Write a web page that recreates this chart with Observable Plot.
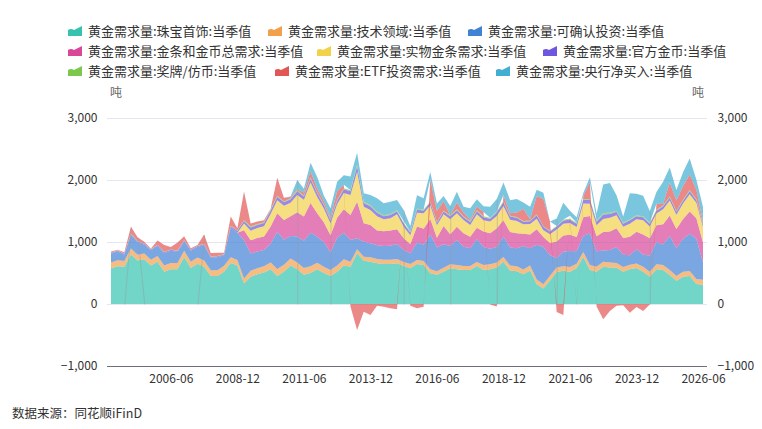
<!DOCTYPE html>
<html><head><meta charset="utf-8">
<script src="https://cdn.jsdelivr.net/npm/d3@7"></script>
<script src="https://cdn.jsdelivr.net/npm/@observablehq/plot@0.6"></script>
<style>
body{margin:0;background:#fff;font-family:"Noto Sans CJK SC","Noto Sans",sans-serif;}
#wrap{position:relative;width:762px;height:429px;overflow:hidden;background:#fff;}
.lg{position:absolute;font-size:13px;color:#333;line-height:16px;white-space:nowrap;}
.lg svg{position:absolute;left:-20px;top:3px;}
.unit{position:absolute;font-size:12px;color:#666;line-height:14px;}
#chart{position:absolute;left:0;top:80px;}
#src{position:absolute;left:12px;top:403px;font-size:12.5px;color:#333;}
</style></head>
<body><div id="wrap">
<div id="legend"></div>
<div class="unit" style="left:110px;top:85px;">吨</div>
<div class="unit" style="left:692px;top:85px;">吨</div>
<div id="chart"></div>
<div id="src">数据来源：同花顺iFinD</div>
</div>
<script>
// categories: quarters 2004-03 .. 2026-06
const quarters = [];
for (let y = 2004; y <= 2026; y++) for (const m of ["03","06","09","12"]) quarters.push(y + "-" + m);
quarters.length = 90;

const names = [
  "黄金需求量:珠宝首饰:当季值",
  "黄金需求量:技术领域:当季值",
  "黄金需求量:可确认投资:当季值",
  "黄金需求量:金条和金币总需求:当季值",
  "黄金需求量:实物金条需求:当季值",
  "黄金需求量:官方金币:当季值",
  "黄金需求量:奖牌/仿币:当季值",
  "黄金需求量:ETF投资需求:当季值",
  "黄金需求量:央行净买入:当季值"
];
const colors = ["#35c3b0","#f3a04c","#4282d4","#d9479a","#f2d24a","#6f55e0","#7cc84c","#e35656","#41aed2"];

const jewelry = [575,610,600,800,700,720,620,680,520,560,560,760,580,650,600,450,450,520,660,620,
  330,440,480,510,560,450,520,620,560,470, 500,560,500,450,520,620,602,817,699,683,
  656,645,645,656,613,575,645,630,495,470, 521,575,559,548,548,613,550,560,590,680,
  540,530,480,540,320,250,380,515,538,520, 575,760,548,521,602,590,586,520,560,580,
  520,440,560,548,468,376,441,452,323,310];
const tech = [95,95,95,95,95,95,95,95,100,100,100,100,100,100,100,95,95,95,95,90,
  80,95,95,100,110,115,115,115,110,110, 110,105,100,100,100,100,80,65,64,70,
  70,70,70,70,65,70,65,65,64,60, 65,65,70,65,65,65,80,80,80,80,
  80,80,75,80,75,70,75,75,70,75, 75,80,80,80,80,80,75,75,75,75,
  80,80,80,80,80,75,80,80,80,80];
const invest = [140,140,100,220,200,140,150,160,200,200,180,150,180,170,250,200,210,170,480,440,
  620,280,270,260,300,600,400,360,420,440, 540,420,400,280,450,430,350,177,242,225,
  220,220,225,240,193,172,280,260,560,380, 377,296,403,312,285,365,290,250,250,330,
  290,290,380,280,560,600,330,150,237,260, 200,260,510,250,180,200,260,200,150,230,
  200,260,360,330,550,450,530,600,650,280];
const barCoin = [null,null,null,null,null,null,null,null,null,null,null,null,null,null,null,null,null,null,null,null,
  160,215,220,220,280,300,320,320,390,390, 480,380,320,280,320,380,403,591,296,296,
  240,240,245,240,188,150,260,260,250,160, 295,188,215,215,188,188,250,250,300,260,
  250,240,200,220,250,160,200,270,258,260, 230,300,280,240,300,300,300,270,300,280,
  320,280,270,330,330,310,320,360,330,320];
const bar = [null,null,null,null,null,null,null,null,null,null,null,null,null,null,null,null,null,null,null,null,
  110,150,160,165,200,210,230,220,280,270, 330,260,220,190,220,260,323,484,269,242,
  230,190,200,240,188,140,220,250,220,200, 188,242,215,215,188,215,180,190,200,230,
  200,200,150,170,170,110,140,190,190,190, 160,220,200,180,210,220,210,180,210,200,
  230,190,190,240,240,230,250,280,250,250];
const coin = [15,15,15,15,15,15,15,15,15,15,15,15,15,15,15,15,15,15,20,30,
  40,55,50,50,60,55,55,55,60,55, 60,60,55,50,55,60,60,90,60,60,
  55,50,50,50,50,45,50,45,50,40, 45,50,50,45,50,50,50,45,60,60,
  50,50,40,45,55,55,45,50,55,55, 55,60,60,55,70,60,55,50,55,50,
  50,45,45,50,50,45,45,50,45,40];
const medal = [6,6,6,6,6,6,6,6,6,6,6,6,6,6,6,6,6,6,8,10,
  10,20,15,15,20,15,15,15,20,15, 20,15,15,15,15,15,20,27,20,20,
  18,15,15,15,15,15,15,15,15,12, 15,15,15,15,15,15,15,15,15,20,
  15,15,12,12,12,10,10,10,15,15, 15,15,15,15,25,20,18,15,15,15,
  15,15,15,15,15,15,15,15,15,15];
const etf = [15,10,20,110,60,30,10,70,110,40,130,60,20,10,150,55,50,20,150,30,
  465,45,40,30,5,290,60,20,10,50, 100,60,50,30,140,60,-40,-420,-124,-177,
  -27,-43,-70,-86,25,-30,-70,-43,364,180, 150,0,110,60,20,60,70,-10,-40,100,
  40,70,200,20,300,440,150,-130,-177,50, -27,50,270,-40,-244,-111,-30,-21,-140,-50,
  -113,-7,95,20,226,170,222,250,150,30];
const cb = [null,null,null,null,null,null,null,null,null,null,null,null,null,null,null,null,null,null,null,null,
  null,null,null,null,null,null,null,10,150,60,
  140,190,90,150,150,150,220,190,135,162, 215,195,200,165,180,91,220,180,110,120,
  86,150,175,95,185,117,90,180,200,200, 210,220,100,200,100,100,0,120,270,80,
  90,45,80,120,460,480,250,100,420,350, 330,190,190,360,244,166,220,260,160,240];

// quarters where the reference shows thin grey drop lines
const glitchTop = [3,4,14,28,33,44,51,58,67,81];
const glitchBottom = [2,5,13,28,33,44,51,58,67,81];

const yTicks = [-1000,0,1000,2000,3000];
const xTicks = [9,19,29,39,49,59,69,79,89];

const seriesValues = [jewelry, tech, invest, barCoin, bar, coin, medal, etf, cb];
const rows = [];
seriesValues.forEach((vals, k) => vals.forEach((v, i) => rows.push({i, s: names[k], v})));
const totals = quarters.map((q, i) => seriesValues.reduce((a, arr) => a + (arr[i] > 0 ? arr[i] : 0), 0));
const glitches = glitchTop.map((t, k) => ({t, b: glitchBottom[k], top: totals[t]}));

// legend
const legendPos = [[68,23],[268,23],[468,23],[68,43],[317,43],[543,43],[68,63],[275,63],[496,63]];
const lg = document.getElementById("legend");
names.forEach((n, k) => {
  const d = document.createElement("div");
  d.className = "lg";
  d.style.left = (legendPos[k][0] + 20) + "px";
  d.style.top = legendPos[k][1] + "px";
  d.innerHTML = `<svg width="14" height="10" viewBox="0 0 14 10"><path d="M0,10 L0,4 Q3,2 6,4 L10,2 L14,0 L14,10 Z" fill="${colors[k]}"/></svg>` + n;
  lg.appendChild(d);
});

const chart = Plot.plot({
  width: 762, height: 320,
  marginTop: 38, marginBottom: 34, marginLeft: 107, marginRight: 55,
  x: {domain: [-0.6, 89.6], axis: null},
  y: {domain: [-1000, 3000], axis: null},
  color: {domain: names, range: colors},
  style: {fontFamily: '"Noto Sans CJK SC", "Noto Sans", sans-serif', fontSize: "12px", color: "#333", background: "transparent"},
  marks: [
    Plot.gridY([0,1000,2000,3000], {stroke: "#e4e6f3", strokeOpacity: 1}),
    Plot.areaY(rows, {x: "i", y: "v", fill: "s", fillOpacity: 0.7, curve: "linear"}),
    Plot.link(glitches, {x1: "t", y1: "top", x2: "b", y2: 0, stroke: "#9a9a9a", strokeOpacity: 0.55, strokeWidth: 0.8}),
    Plot.ruleY([-1000], {stroke: "#6e7079", strokeWidth: 1}),
    Plot.axisY({ticks: yTicks, anchor: "left", tickSize: 0, tickPadding: 10, tickFormat: d3.format(","), label: null, fill: "#333"}),
    Plot.axisY({ticks: yTicks, anchor: "right", tickSize: 0, tickPadding: 10, tickFormat: d3.format(","), label: null, fill: "#333"}),
    Plot.axisX({ticks: xTicks, anchor: "bottom", tickSize: 0, tickPadding: 8, tickFormat: i => quarters[i], label: null, fill: "#333"})
  ]
});
document.getElementById("chart").appendChild(chart);
</script>
</body></html>
